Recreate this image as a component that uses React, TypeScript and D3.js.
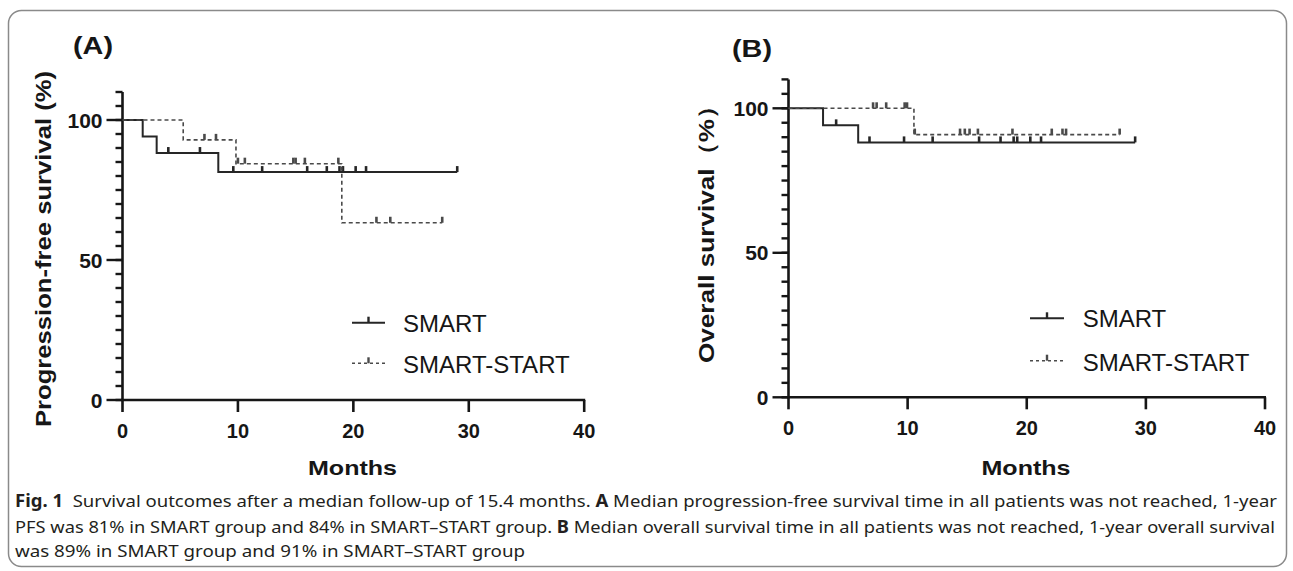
import React from 'react';
import * as d3 from 'd3';

// ---------- data ----------
const xTicks = [0, 10, 20, 30, 40];
const yMajorTicks = [0, 50, 100];
const yMinorTicks = [0, 5, 10, 15, 20, 25, 30, 35, 40, 45, 50, 55, 60, 65, 70, 75, 80, 85, 90, 95, 100, 105, 110];
const seriesNames = ['SMART', 'SMART-START'];

// Panel A: progression-free survival
const pfsSmartEventTimes = [1.75, 2.96, 8.3];
const pfsSmartSurvival = [94.1, 88.2, 81.4];
const pfsSmartCensored = [3.97, 6.71, 9.6, 12.1, 16.0, 17.7, 18.8, 19.1, 20.2, 21.1, 29.0];
const pfsSmartEnd = 29.0;

const pfsStartEventTimes = [5.26, 9.83, 19.0];
const pfsStartSurvival = [92.9, 84.4, 63.3];
const pfsStartCensored = [7.1, 8.1, 10.0, 10.6, 14.8, 15.0, 15.8, 18.7, 22.0, 23.2, 27.7];
const pfsStartEnd = 27.7;

// Panel B: overall survival
const osSmartEventTimes = [2.9, 5.85];
const osSmartSurvival = [94.1, 88.2];
const osSmartCensored = [4.0, 6.8, 9.7, 12.1, 16.0, 17.8, 18.9, 19.2, 20.3, 21.2, 29.1];
const osSmartEnd = 29.1;

const osStartEventTimes = [10.53];
const osStartSurvival = [90.9];
const osStartCensored = [7.1, 7.4, 8.2, 9.75, 9.95, 10.6, 14.4, 14.8, 15.2, 15.9, 18.8, 22.1, 23.0, 23.3, 27.8];
const osStartEnd = 27.8;

const captionLine1 = [
  { t: 'Fig. 1', b: true },
  { t: '  Survival outcomes after a median follow-up of 15.4 months. ', b: false },
  { t: 'A', b: true },
  { t: ' Median progression-free survival time in all patients was not reached, 1-year', b: false },
];
const captionLine2 = [
  { t: 'PFS was 81% in SMART group and 84% in SMART\u2013START group. ', b: false },
  { t: 'B', b: true },
  { t: ' Median overall survival time in all patients was not reached, 1-year overall survival', b: false },
];
const captionLine3 = [{ t: 'was 89% in SMART group and 91% in SMART\u2013START group', b: false }];

// ---------- helpers ----------
const FONT = '"Liberation Sans", Arial, Helvetica, sans-serif';
const INK = '#161616';

type Series = { times: number[]; surv: number[]; censored: number[]; end: number; dashed: boolean };

function survAt(s: Series, t: number) {
  let v = 100;
  s.times.forEach((et, i) => {
    if (et <= t) v = s.surv[i];
  });
  return v;
}

function Curve({ s, x, y }: { s: Series; x: d3.ScaleLinear<number, number>; y: d3.ScaleLinear<number, number> }) {
  const pts: [number, number][] = [[0, 100]];
  s.times.forEach((t, i) => pts.push([t, s.surv[i]]));
  pts.push([s.end, s.surv[s.surv.length - 1] ?? 100]);
  const line = d3
    .line<[number, number]>()
    .x((d) => x(d[0]))
    .y((d) => y(d[1]))
    .curve(d3.curveStepAfter);
  const color = s.dashed ? '#4a4a4a' : '#262626';
  return (
    <g>
      <path
        d={line(pts) ?? ''}
        fill="none"
        stroke={color}
        strokeWidth={s.dashed ? 1.6 : 2}
        strokeDasharray={s.dashed ? '4,3' : undefined}
      />
      {s.censored.map((c, i) => {
        const cx = x(c);
        const cy = y(survAt(s, c));
        return <line key={i} x1={cx} x2={cx} y1={cy} y2={cy - 6} stroke={color} strokeWidth={2.6} />;
      })}
    </g>
  );
}

type PanelProps = {
  xr: [number, number];
  yr: [number, number];
  series: Series[];
  title: string;
  titlePos: [number, number];
  ylabel: string;
  ylabelPos: [number, number];
  ylabelLen: number;
  monthsPos: [number, number];
  legend: { x1: number; x2: number; ys: number[]; tx: number; tys: number[] };
};

function Panel(p: PanelProps) {
  const x = d3.scaleLinear().domain([0, 40]).range(p.xr);
  const y = d3.scaleLinear().domain([0, 100]).range(p.yr);
  const x0 = x(0);
  const y0 = y(0);
  return (
    <g>
      <text x={p.titlePos[0]} y={p.titlePos[1]} fontFamily={FONT} fontWeight="bold" fontSize={23} fill={INK} textLength={40} lengthAdjust="spacingAndGlyphs">
        {p.title}
      </text>
      <text
        transform={`translate(${p.ylabelPos[0]},${p.ylabelPos[1]}) rotate(-90)`}
        textAnchor="middle"
        fontFamily={FONT}
        fontWeight="bold"
        fontSize={22}
        fill={INK}
        textLength={p.ylabelLen}
        lengthAdjust="spacingAndGlyphs"
      >
        {p.ylabel}
      </text>
      {/* y axis */}
      <line x1={x0} x2={x0} y1={y(110)} y2={y0 + 1} stroke={INK} strokeWidth={2.6} />
      {yMinorTicks.map((t) => (
        <line key={'m' + t} x1={x0 - 7} x2={x0} y1={y(t)} y2={y(t)} stroke={INK} strokeWidth={2.4} />
      ))}
      {yMajorTicks.map((t) => (
        <g key={'M' + t}>
          <line x1={x0 - 16} x2={x0} y1={y(t)} y2={y(t)} stroke={INK} strokeWidth={2.4} />
          <text x={x0 - 20} y={y(t) + 7.5} textAnchor="end" fontFamily={FONT} fontWeight="bold" fontSize={21} fill={INK}>
            {t}
          </text>
        </g>
      ))}
      {/* x axis */}
      <line x1={x0 - 1} x2={x(40) + 1} y1={y0} y2={y0} stroke={INK} strokeWidth={2.6} />
      {xTicks.map((t) => (
        <g key={'x' + t}>
          <line x1={x(t)} x2={x(t)} y1={y0} y2={y0 + 12} stroke={INK} strokeWidth={2.6} />
          <text x={x(t)} y={y0 + 38} textAnchor="middle" fontFamily={FONT} fontWeight="bold" fontSize={20} fill={INK}>
            {t}
          </text>
        </g>
      ))}
      <text x={p.monthsPos[0]} y={p.monthsPos[1]} textAnchor="middle" fontFamily={FONT} fontWeight="bold" fontSize={21} fill={INK} textLength={89} lengthAdjust="spacingAndGlyphs">
        Months
      </text>
      {p.series.map((s, i) => (
        <Curve key={i} s={s} x={x} y={y} />
      ))}
      {/* legend */}
      {seriesNames.map((name, i) => {
        const ly = p.legend.ys[i];
        const dashed = i === 1;
        const color = dashed ? '#4a4a4a' : '#262626';
        const mx = (p.legend.x1 + p.legend.x2) / 2;
        return (
          <g key={name}>
            <line
              x1={p.legend.x1}
              x2={p.legend.x2}
              y1={ly}
              y2={ly}
              stroke={color}
              strokeWidth={dashed ? 1.6 : 2}
              strokeDasharray={dashed ? '3,3' : undefined}
            />
            <line x1={mx} x2={mx} y1={ly} y2={ly - 6} stroke={color} strokeWidth={2.4} />
            <text x={p.legend.tx} y={p.legend.tys[i]} fontFamily={FONT} fontSize={24} fill={INK}>
              {name}
            </text>
          </g>
        );
      })}
    </g>
  );
}

function CaptionLine({ parts, y, len }: { parts: { t: string; b: boolean }[]; y: number; len: number }) {
  return (
    <text x={15} y={y} fontFamily='"Noto Sans", "Open Sans", sans-serif' fontSize={17} fill="#231f20" textLength={len} lengthAdjust="spacingAndGlyphs" style={{ whiteSpace: 'pre' }}>
      {parts.map((p, i) => (
        <tspan key={i} fontWeight={p.b ? 'bold' : 'normal'}>
          {p.t}
        </tspan>
      ))}
    </text>
  );
}

export default function App() {
  const pfs: Series[] = [
    { times: pfsSmartEventTimes, surv: pfsSmartSurvival, censored: pfsSmartCensored, end: pfsSmartEnd, dashed: false },
    { times: pfsStartEventTimes, surv: pfsStartSurvival, censored: pfsStartCensored, end: pfsStartEnd, dashed: true },
  ];
  const os: Series[] = [
    { times: osSmartEventTimes, surv: osSmartSurvival, censored: osSmartCensored, end: osSmartEnd, dashed: false },
    { times: osStartEventTimes, surv: osStartSurvival, censored: osStartCensored, end: osStartEnd, dashed: true },
  ];
  return (
    <svg width={1293} height={571} style={{ position: 'absolute', left: 0, top: 0, background: '#fff' }}>
      <rect x={8.5} y={10.5} width={1278} height={556} rx={13} ry={13} fill="#fff" stroke="#8a8a8a" strokeWidth={1.5} />
      <Panel
        xr={[122.5, 584.2]}
        yr={[400, 120]}
        series={pfs}
        title="(A)"
        titlePos={[73, 53.5]}
        ylabel="Progression-free survival (%)"
        ylabelPos={[51, 249]}
        ylabelLen={356}
        monthsPos={[352.5, 475]}
        legend={{ x1: 352, x2: 385, ys: [322.7, 363.3], tx: 403, tys: [331.7, 373.3] }}
      />
      <Panel
        xr={[788.5, 1265]}
        yr={[397.3, 108.3]}
        series={os}
        title="(B)"
        titlePos={[732, 56.5]}
        ylabel={'Overall survival\uFF08%\uFF09'}
        ylabelPos={[714, 228]}
        ylabelLen={270}
        monthsPos={[1026, 475]}
        legend={{ x1: 1030, x2: 1064, ys: [318.3, 360.7], tx: 1082.7, tys: [326.7, 370.7] }}
      />
      <CaptionLine parts={captionLine1} y={507} len={1262} />
      <CaptionLine parts={captionLine2} y={533} len={1260} />
      <CaptionLine parts={captionLine3} y={557} len={510} />
    </svg>
  );
}
